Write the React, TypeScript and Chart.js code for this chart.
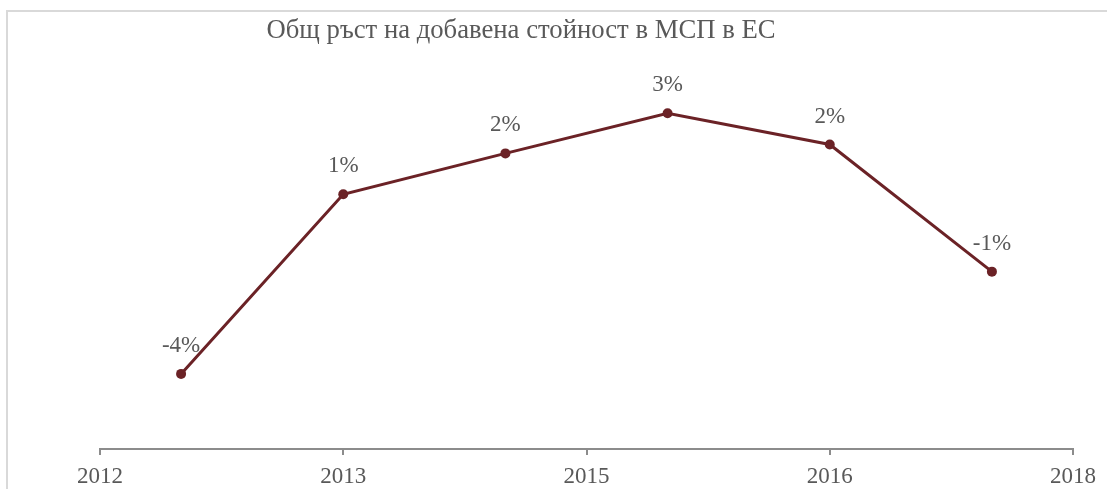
import React, { useEffect, useRef } from "react";
import { Chart, registerables } from "chart.js";

Chart.register(...registerables);

const TITLE = "Общ ръст на добавена стойност в МСП в ЕС";
const years = [2012, 2013, 2014, 2015, 2016, 2017];
const growth = [-3.98, 0.85, 1.95, 3.03, 2.19, -1.23];
const axisMin = 2012;
const axisMax = 2018;
const axisStep = 1.5;

const LINE_COLOR = "#6B2226";
const TEXT_COLOR = "#595959";
const FONT = "'Liberation Serif', 'Times New Roman', serif";

const labelPlugin = {
  id: "labelsAndTitle",
  afterDatasetsDraw(chart: any) {
    const ctx = chart.ctx;
    const meta = chart.getDatasetMeta(0);
    ctx.save();
    ctx.fillStyle = TEXT_COLOR;
    ctx.font = `23px ${FONT}`;
    ctx.textAlign = "center";
    ctx.textBaseline = "middle";
    meta.data.forEach((pt: any, i: number) => {
      const v = Math.round(growth[i]);
      ctx.fillText(`${v}%`, pt.x, pt.y - 28);
    });
    ctx.font = `26.7px ${FONT}`;
    ctx.fillText(TITLE, 521, 31);
    ctx.restore();
  },
};

export default function App() {
  const ref = useRef<HTMLCanvasElement>(null);
  useEffect(() => {
    if (!ref.current) return;
    const chart = new Chart(ref.current, {
      type: "line",
      data: {
        datasets: [
          {
            data: years.map((y, i) => ({ x: y + 0.5, y: growth[i] })),
            borderColor: LINE_COLOR,
            backgroundColor: LINE_COLOR,
            borderWidth: 3,
            pointRadius: 5,
            pointBorderWidth: 0,
            pointBackgroundColor: LINE_COLOR,
            tension: 0,
            clip: false as any,
          },
        ],
      },
      options: {
        animation: false,
        responsive: false,
        layout: { padding: { left: 100, right: 34, top: 40, bottom: 0 } },
        plugins: { legend: { display: false }, tooltip: { enabled: false }, title: { display: false } },
        scales: {
          x: {
            type: "linear",
            min: axisMin,
            max: axisMax,
            afterFit: (scale: any) => {
              scale.height = 40;
              scale.paddingLeft = 0;
              scale.paddingRight = 0;
            },
            grid: { drawOnChartArea: false, drawTicks: true, tickLength: 6, color: "#8c8c8c", lineWidth: 2 },
            border: { display: true, color: "#8c8c8c", width: 2 },
            ticks: {
              stepSize: axisStep,
              autoSkip: false,
              maxRotation: 0,
              padding: 8,
              color: TEXT_COLOR,
              font: { family: FONT, size: 23 },
              callback: (v: any) => String(Math.floor(Number(v))),
            },
          },
          y: { display: false, min: -6, max: 5 },
        },
      },
      plugins: [labelPlugin],
    });
    return () => chart.destroy();
  }, []);
  return (
    <div style={{ position: "fixed", left: 0, top: 0, width: 1107, height: 489, overflow: "hidden", background: "#fff" }}>
      <div style={{ position: "absolute", left: 6, top: 10, width: 1200, height: 600, border: "2px solid #d9d9d9", boxSizing: "border-box" }} />
      <canvas ref={ref} width={1107} height={489} style={{ position: "absolute", left: 0, top: 0 }} />
    </div>
  );
}
